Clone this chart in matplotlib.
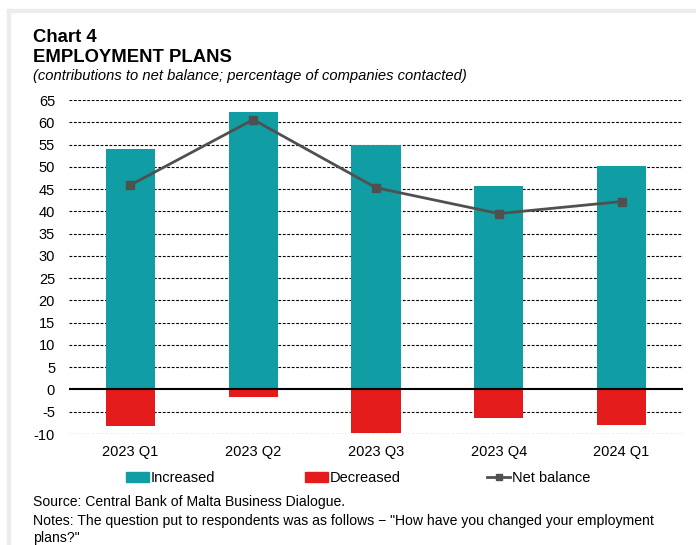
import matplotlib
matplotlib.use("Agg")
import matplotlib.pyplot as plt
from matplotlib.patches import Rectangle
from matplotlib.lines import Line2D
import numpy as np

plt.rcParams['font.family'] = ['Liberation Sans', 'DejaVu Sans']

categories = ["2023 Q1", "2023 Q2", "2023 Q3", "2023 Q4", "2024 Q1"]
increased = [54.0, 62.4, 55.0, 45.8, 50.1]
decreased = [-8.1, -1.8, -9.7, -6.3, -7.9]
net_balance = [45.9, 60.6, 45.3, 39.5, 42.2]
y_ticks = list(range(-10, 70, 5))

teal = "#109da4"
red = "#e31b1b"
grey = "#505050"

fig = plt.figure(figsize=(6.96, 5.45), dpi=100)
W, H = 696, 545

# light frame along the top and left edges
fig.patches.append(Rectangle((7 / W, 0), 3 / W, 1 - 9 / H, transform=fig.transFigure,
                             color="#ececec", zorder=0))
fig.patches.append(Rectangle((7 / W, 1 - 12 / H), 1, 3 / H, transform=fig.transFigure,
                             color="#ececec", zorder=0))

ax = fig.add_axes([69 / W, 1 - 434 / H, (683 - 69) / W, (434 - 100) / H])
x = np.arange(len(categories))
ax.bar(x, increased, width=0.4, color=teal, zorder=2)
ax.bar(x, decreased, width=0.4, color=red, zorder=2)
ax.plot(x, net_balance, color=grey, lw=2, marker="s", markersize=6, zorder=3)

ax.set_xlim(-0.5, len(categories) - 0.5)
ax.set_ylim(-10, 65)
ax.set_yticks(y_ticks)
ax.set_yticklabels([str(v) for v in y_ticks], fontsize=10.5)
ax.set_xticks(x)
ax.set_xticklabels(categories, fontsize=10.5)
ax.tick_params(length=0, pad=8)
ax.tick_params(axis='y', pad=10)
for v in y_ticks:
    if v != 0:
        ax.axhline(v, color="black", lw=0.8, ls=(0, (2.5, 1.5)), zorder=1)
ax.axhline(0, color="black", lw=1.5, zorder=4)
for s in ax.spines.values():
    s.set_visible(False)

# legend entries placed one by one
entries = [
    (Rectangle((0, 0), 1, 1, color=teal), "Increased", 126),
    (Rectangle((0, 0), 1, 1, color=red), "Decreased", 305),
    (Line2D([0], [0], color=grey, lw=2, marker="s", markersize=5), "Net balance", 487),
]
for handle, label, xpos in entries:
    fig.legend([handle], [label], frameon=False, loc="center left",
               bbox_to_anchor=(xpos / W, 1 - 478 / H), fontsize=10.5,
               handlelength=1.6, handletextpad=0.1, handleheight=0.7,
               borderpad=0, borderaxespad=0)

fig.text(33 / W, 1 - 42 / H, "Chart 4", fontsize=13.3, fontweight="bold")
fig.text(33 / W, 1 - 62 / H, "EMPLOYMENT PLANS", fontsize=13.3, fontweight="bold")
fig.text(33 / W, 1 - 80 / H, "(contributions to net balance; percentage of companies contacted)",
         fontsize=10.6, style="italic")
fig.text(33 / W, 1 - 506 / H, "Source: Central Bank of Malta Business Dialogue.", fontsize=10.1)
fig.text(33 / W, 1 - 525 / H,
         "Notes: The question put to respondents was as follows \u2212 \"How have you changed your employment",
         fontsize=10.1)
fig.text(33 / W, 1 - 542 / H, "plans?\"", fontsize=10.1)

fig.savefig("out.png", dpi=100)
